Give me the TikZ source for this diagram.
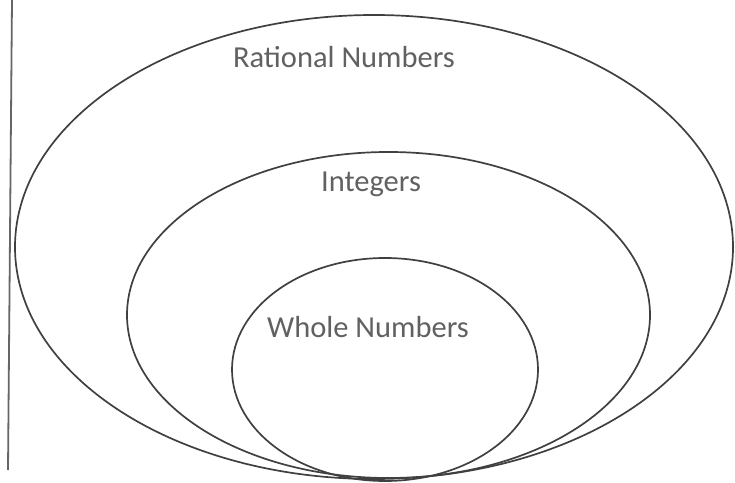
\documentclass[tikz,border=0pt]{standalone}
\usepackage{fontspec}
\setmainfont{Carlito}
\begin{document}
\begin{tikzpicture}[x=1pt,y=1pt,
  ring/.style={draw=black!75,line width=1.7pt},
  lbl/.style={text=black!62,font=\fontsize{30.5}{33}\selectfont,inner sep=0pt}]
\useasboundingbox[fill=white] (0,0) rectangle (735,482);
\coordinate (lt) at (12,482);
\coordinate (lb) at (8,12);
\draw[draw=black!60,line width=1.8pt] (lt) -- (lb);
\draw[ring] (374,235) ellipse [x radius=359,y radius=232];
\draw[ring] (388.5,167) ellipse [x radius=261.5,y radius=163];
\draw[ring] (385,112.5) ellipse [x radius=153,y radius=111.5];
\node[lbl] (r) at (344,425) {Rational Numbers};
\node[lbl] (i) at (371,298) {Integers};
\node[lbl] (w) at (368,155) {Whole Numbers};
\end{tikzpicture}
\end{document}
